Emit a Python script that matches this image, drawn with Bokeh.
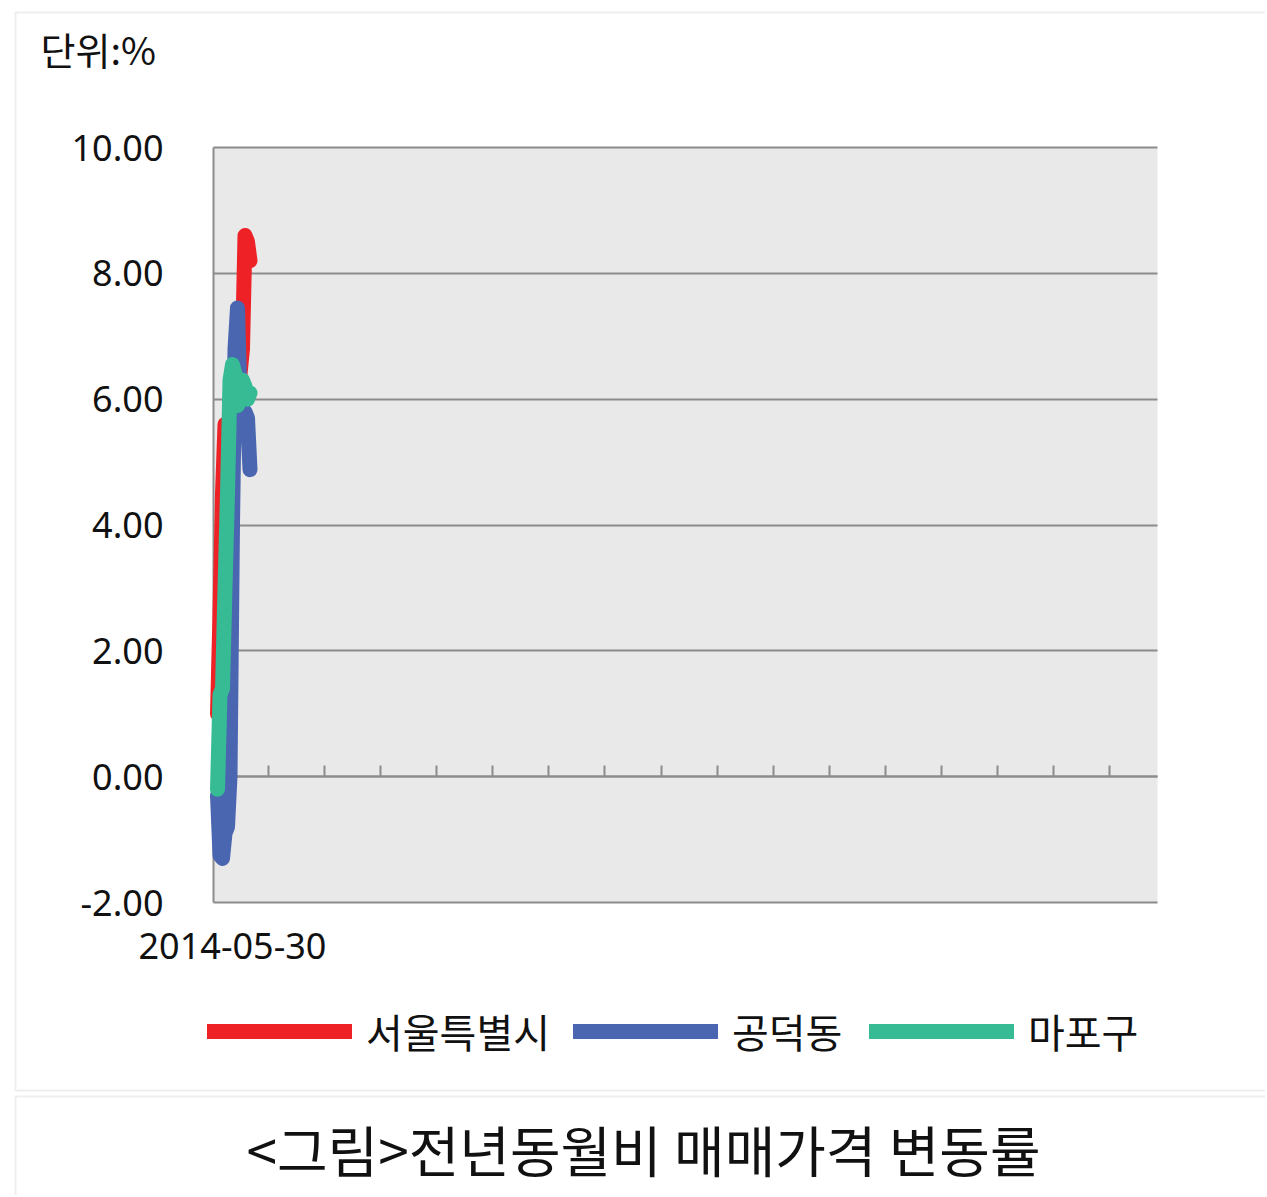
from bokeh.plotting import figure
from bokeh.models import (Range1d, LinearAxis, FixedTicker, NumeralTickFormatter, Legend,
                          LegendItem, Label, BoxAnnotation)
from bokeh.embed import file_html
from bokeh.resources import INLINE

# ---- data ----
x_idx = [0, 1, 2, 3, 4, 5, 6, 7, 8, 9, 10, 11, 12, 13]
seoul = [1.0, 2.6, 4.5, 5.6, 5.5, 5.7, 5.9, 6.0, 6.2, 6.4, 6.8, 8.6, 8.5, 8.2]
gongdeok = [-0.3, -1.25, -1.3, -0.9, -0.8, 0.0, 4.0, 6.8, 7.45, 6.0, 5.6, 5.8, 5.7, 4.88]
mapo = [-0.2, 1.3, 1.4, 3.0, 4.5, 6.3, 6.55, 6.4, 5.9, 6.0, 6.3, 6.2, 6.0, 6.1]
series_names = ["서울특별시", "공덕동", "마포구"]
date_label = "2014-05-30"
y_ticks = [-2, 0, 2, 4, 6, 8, 10]
unit_label = "단위:%"
caption = "<그림>전년동월비 매매가격 변동률"

RED = "#ee2226"
BLUE = "#4a66b0"
GREEN = "#36bb94"
GRID = "#8c8c8c"
BOXLINE = "#c8c8c8"
FONT_NUM = "Noto Sans"
FONT_KR = "Noto Sans CJK KR"

W, H = 1265, 1195
PX_X = 2.5                 # pixels per x unit
PX_Y = (902 - 147) / 12.0  # pixels per y unit
X_LEFT, X_RIGHT = -1.6, 376.0  # plot area x extent
Y_MIN, Y_MAX = -2, 10

x0 = -217 / PX_X
y_top = Y_MAX + 147 / PX_Y
p = figure(width=W, height=H, output_backend="svg", toolbar_location=None,
           x_range=Range1d(x0, x0 + W / PX_X), y_range=Range1d(y_top - H / PX_Y, y_top),
           x_axis_type=None, y_axis_type=None, min_border=0)
p.title = None
p.background_fill_color = "white"
p.border_fill_color = "white"
p.outline_line_color = None

# plot area
p.add_layout(BoxAnnotation(left=X_LEFT, right=X_RIGHT, bottom=Y_MIN, top=Y_MAX,
                           fill_color="#e9e9e9", fill_alpha=1, line_color=None, level="image"))

# y axis; its long inward ticks form the horizontal grid lines
yaxis = LinearAxis(fixed_location=X_LEFT, bounds=(Y_MIN, Y_MAX), ticker=FixedTicker(ticks=y_ticks),
                   formatter=NumeralTickFormatter(format="0.00"),
                   axis_line_color=GRID, axis_line_width=2,
                   major_tick_in=int(round((X_RIGHT - X_LEFT) * PX_X)), major_tick_out=0,
                   major_tick_line_color=GRID, major_tick_line_width=2,
                   minor_tick_line_color=None, major_label_standoff=50,
                   major_label_text_font=FONT_NUM, major_label_text_font_size="36px",
                   major_label_text_color="#111111", level="underlay")
p.add_layout(yaxis, "left")

# date label under the plot area
xaxis = LinearAxis(fixed_location=Y_MIN, ticker=FixedTicker(ticks=[6]),
                   major_label_overrides={6: date_label},
                   axis_line_color=None, major_tick_line_color=None, major_tick_in=0,
                   major_tick_out=0, minor_tick_line_color=None, major_label_standoff=30,
                   major_label_text_font=FONT_NUM, major_label_text_font_size="36px",
                   major_label_text_color="#111111", level="underlay")
p.add_layout(xaxis, "below")

# category axis crossing at zero, ticks pointing up
x_ticks = [20.4 + 22.43 * k for k in range(16)]
zaxis = LinearAxis(fixed_location=0, bounds=(X_LEFT, X_RIGHT), ticker=FixedTicker(ticks=x_ticks),
                   axis_line_color=GRID, axis_line_width=2,
                   major_tick_in=11, major_tick_out=0, major_tick_line_color=GRID,
                   major_tick_line_width=2, minor_tick_line_color=None,
                   major_label_text_color=None, major_label_text_font_size="1px",
                   level="underlay")
p.add_layout(zaxis, "below")

LW = 15
r_red = p.line(x_idx, seoul, line_color=RED, line_width=LW, line_cap="round", line_join="round")
r_blue = p.line(x_idx, gongdeok, line_color=BLUE, line_width=LW, line_cap="round", line_join="round")
r_green = p.line(x_idx, mapo, line_color=GREEN, line_width=LW, line_cap="round", line_join="round")

for r, name, xloc in zip([r_red, r_blue, r_green], series_names, [207, 573, 869]):
    leg = Legend(items=[LegendItem(label=name, renderers=[r])], location=(xloc, H - 1016 - 44),
                 orientation="horizontal", glyph_width=145, glyph_height=44, label_height=44,
                 label_standoff=14, padding=0, margin=0, spacing=0,
                 border_line_color=None, background_fill_alpha=0,
                 label_text_font=FONT_KR, label_text_font_size="40px",
                 label_text_color="#111111")
    p.add_layout(leg)

# frames of the page boxes
p.add_layout(BoxAnnotation(left=15, right=W + 40, top=H - 12, bottom=H - 1090,
                           left_units="screen", right_units="screen", top_units="screen",
                           bottom_units="screen", fill_alpha=0, line_color=BOXLINE, line_width=2))
p.add_layout(BoxAnnotation(left=15, right=W + 40, top=H - 1096, bottom=-40,
                           left_units="screen", right_units="screen", top_units="screen",
                           bottom_units="screen", fill_alpha=0, line_color=BOXLINE, line_width=2))

p.add_layout(Label(x=40, y=H - 48, x_units="screen", y_units="screen", text=unit_label,
                   text_align="left", text_baseline="middle", text_font=FONT_KR,
                   text_font_size="38px", text_color="#111111"))
p.add_layout(Label(x=643, y=H - 1147, x_units="screen", y_units="screen", text=caption,
                   text_align="center", text_baseline="middle", text_font=FONT_KR,
                   text_font_size="55px", text_color="#111111"))

open("out.html", "w").write(file_html(p, INLINE))
